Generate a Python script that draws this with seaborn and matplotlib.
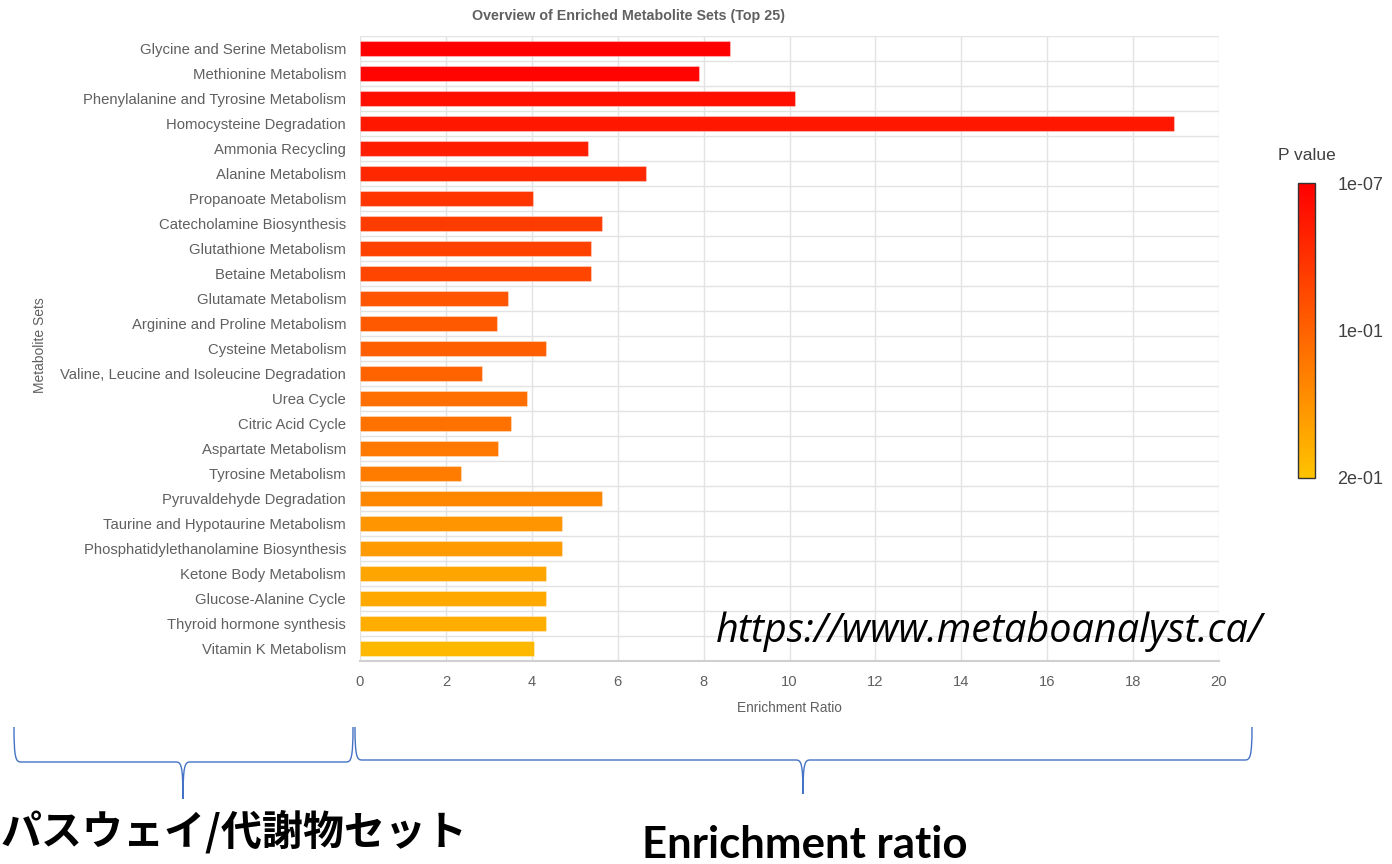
import numpy as np
import pandas as pd
import matplotlib
matplotlib.use("Agg")
import matplotlib.pyplot as plt
import matplotlib.colors as mcolors
from matplotlib.path import Path
from matplotlib.patches import PathPatch
from matplotlib import font_manager
import seaborn as sns

# Enriched metabolite sets, top to bottom
sets = [
    "Glycine and Serine Metabolism",
    "Methionine Metabolism",
    "Phenylalanine and Tyrosine Metabolism",
    "Homocysteine Degradation",
    "Ammonia Recycling",
    "Alanine Metabolism",
    "Propanoate Metabolism",
    "Catecholamine Biosynthesis",
    "Glutathione Metabolism",
    "Betaine Metabolism",
    "Glutamate Metabolism",
    "Arginine and Proline Metabolism",
    "Cysteine Metabolism",
    "Valine, Leucine and Isoleucine Degradation",
    "Urea Cycle",
    "Citric Acid Cycle",
    "Aspartate Metabolism",
    "Tyrosine Metabolism",
    "Pyruvaldehyde Degradation",
    "Taurine and Hypotaurine Metabolism",
    "Phosphatidylethanolamine Biosynthesis",
    "Ketone Body Metabolism",
    "Glucose-Alanine Cycle",
    "Thyroid hormone synthesis",
    "Vitamin K Metabolism",
]
enrichment = [8.61, 7.90, 10.13, 18.95, 5.30, 6.66, 4.03, 5.64, 5.38, 5.38,
              3.45, 3.18, 4.34, 2.83, 3.89, 3.52, 3.21, 2.34, 5.64, 4.71,
              4.71, 4.34, 4.34, 4.34, 4.04]
pvalues = [1e-7, 0.004, 0.015, 0.024, 0.030, 0.040, 0.055, 0.061, 0.066, 0.071,
           0.086, 0.091, 0.096, 0.101, 0.112, 0.117, 0.122, 0.127, 0.138, 0.153,
           0.158, 0.168, 0.173, 0.178, 0.189]
cbar_ticks = [1e-7, 0.1, 0.2]
cbar_labels = ["1e-07", "1e-01", "2e-01"]
x_ticks = list(range(0, 21, 2))

df = pd.DataFrame({"set": sets, "ratio": enrichment, "p": pvalues})

sns.set_theme(style="white")
plt.rcParams["font.family"] = ["Liberation Sans", "DejaVu Sans"]

installed = {f.name for f in font_manager.fontManager.ttflist}
narrow = "Liberation Sans Narrow" if "Liberation Sans Narrow" in installed else "Liberation Sans"
narrow_size = 1.0 if narrow == "Liberation Sans Narrow" else 0.85

W, H = 1392, 864
fig = plt.figure(figsize=(W / 100, H / 100), dpi=100)

cmap = mcolors.LinearSegmentedColormap.from_list("pheat", ["#FF0000", "#FF6200", "#FFC300"])
norm = mcolors.Normalize(vmin=0.0, vmax=0.2)
palette = {s: cmap(norm(p)) for s, p in zip(sets, pvalues)}

grid_c = "#e3e3e3"
text_c = "#606060"

ax = fig.add_axes([360 / W, 1 - 661 / H, 859 / W, 625 / H])
sns.barplot(data=df, x="ratio", y="set", hue="set", palette=palette, legend=False,
            orient="h", width=0.62, order=sets, ax=ax, linewidth=0.8,
            edgecolor="#ffffff55", saturation=1)
ax.set_xlim(0, 20)
ax.set_ylim(len(sets) - 0.5, -0.5)
ax.set_xticks(x_ticks)
ax.set_xticklabels([str(t) for t in x_ticks], fontsize=12.5 * narrow_size,
                   color=text_c, family=[narrow, "DejaVu Sans"])
ax.set_yticks(range(len(sets)))
ax.set_yticklabels(sets, fontsize=10.7, color=text_c)
ax.set_yticks(np.arange(-0.5, len(sets), 1.0), minor=True)
ax.tick_params(axis="y", which="major", length=0, pad=10)
ax.tick_params(axis="y", which="minor", length=8.5, color=grid_c, width=1)
ax.tick_params(axis="x", which="major", length=5, color=grid_c, width=1, pad=5)
ax.grid(True, axis="x", which="major", color=grid_c, linewidth=1)
ax.grid(True, axis="y", which="minor", color=grid_c, linewidth=1)
ax.set_axisbelow(True)
for side in ["top", "right", "left"]:
    ax.spines[side].set_visible(False)
ax.spines["bottom"].set_color("#d0d0d0")
ax.spines["bottom"].set_linewidth(1.5)
ax.set_xlabel("Enrichment Ratio", fontsize=11.5 * narrow_size, color=text_c,
              labelpad=9, family=[narrow, "DejaVu Sans"])
ax.set_ylabel("")

fig.text(629 / W, 1 - 16 / H, "Overview of Enriched Metabolite Sets (Top 25)",
         ha="center", va="center", fontsize=10.3, fontweight="bold", color=text_c)
fig.text(40 / W, 1 - 345 / H, "Metabolite Sets", rotation=90, ha="center",
         va="center", fontsize=10, color=text_c)

# P-value colour bar
cax = fig.add_axes([1298 / W, 1 - 478 / H, 17 / W, 295 / H])
sm = plt.cm.ScalarMappable(norm=norm, cmap=cmap)
cb = fig.colorbar(sm, cax=cax, ticks=cbar_ticks)
cb.ax.invert_yaxis()
cb.ax.set_yticklabels(cbar_labels, fontsize=13, color="#404040")
cb.ax.tick_params(length=0, pad=16)
cb.outline.set_edgecolor("#333333")
cb.outline.set_linewidth(1.0)
fig.text(1307 / W, 1 - 155 / H, "P value", ha="center", va="center",
         fontsize=12.5, color="#404040")

# Source link
fig.text(989 / W, 1 - 632 / H, "https://www.metaboanalyst.ca/", ha="center",
         va="center", fontsize=28.5, style="italic", family=["Open Sans", "DejaVu Sans"],
         color="black")


def brace(x0, x1, xm, ytop, ymid, ytip, color="#4472C4"):
    r = 7
    verts = [
        (x0, ytop), (x0, ymid - 3), (x0 + 2, ymid), (x0 + r, ymid),
        (xm - r, ymid),
        (xm - 2, ymid), (xm, ymid + 3), (xm, ytip),
        (xm, ymid + 3), (xm + 2, ymid), (xm + r, ymid),
        (x1 - r, ymid),
        (x1 - 2, ymid), (x1, ymid - 3), (x1, ytop),
    ]
    codes = [Path.MOVETO, Path.CURVE4, Path.CURVE4, Path.CURVE4,
             Path.LINETO,
             Path.CURVE4, Path.CURVE4, Path.CURVE4,
             Path.CURVE4, Path.CURVE4, Path.CURVE4,
             Path.LINETO,
             Path.CURVE4, Path.CURVE4, Path.CURVE4]
    verts = [(x / W, 1 - y / H) for x, y in verts]
    patch = PathPatch(Path(verts, codes), facecolor="none", edgecolor=color,
                      linewidth=1.0, transform=fig.transFigure)
    fig.patches.append(patch)


brace(14, 353, 183, 727, 762, 799)
brace(355, 1252, 803, 727, 760, 794)

fig.text(1 / W, 1 - 832 / H, "パスウェイ/代謝物セット", ha="left", va="center",
         fontsize=29.5, fontweight="bold", color="black",
         family=["Noto Sans CJK JP", "DejaVu Sans"])
fig.text(805 / W, 1 - 845 / H, "Enrichment ratio", ha="center", va="center",
         fontsize=31.5, fontweight="bold", color="black",
         family=["Lato", "DejaVu Sans"])

fig.savefig("out.png", dpi=100, facecolor="white")
